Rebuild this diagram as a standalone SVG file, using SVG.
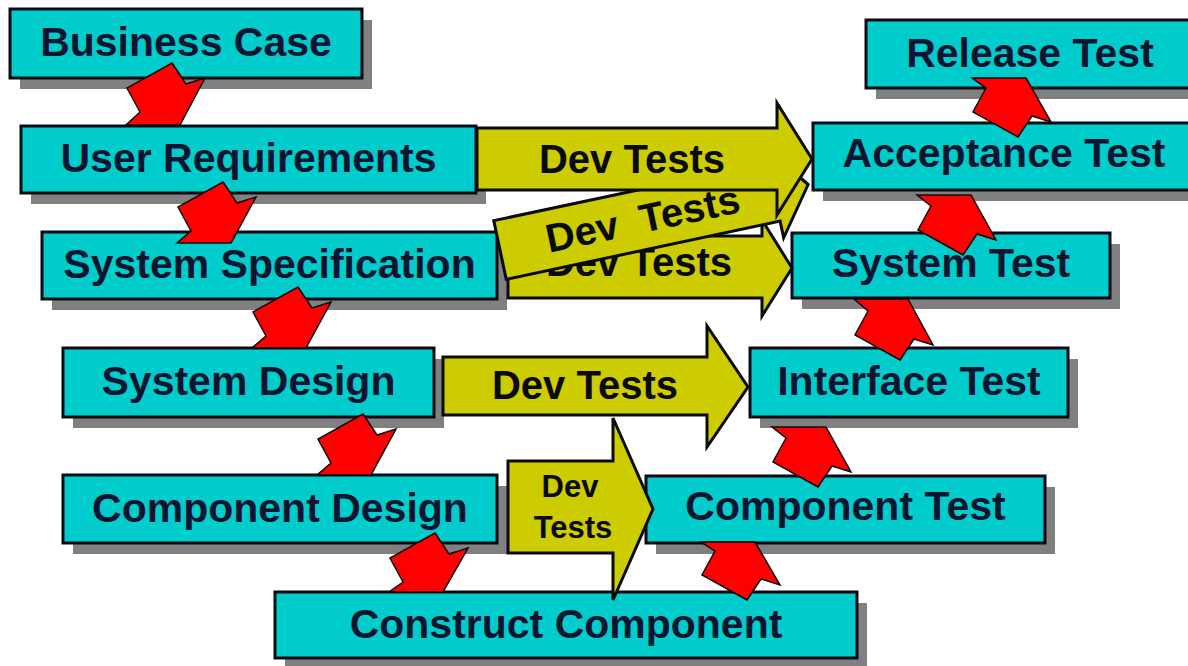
<svg xmlns="http://www.w3.org/2000/svg" width="1188" height="666" viewBox="0 0 1188 666">
<style>
.sh{fill:#808080}
.bx{fill:#00CCCC;stroke:#0a0a14;stroke-width:3}
.lb{font-family:"Liberation Sans",Arial,sans-serif;font-weight:bold;font-size:41px;fill:#0b1530;text-anchor:middle}
.ya{fill:#CCCC00;stroke:#0a0a0a;stroke-width:3;stroke-linejoin:miter}
.yt{font-family:"Liberation Sans",Arial,sans-serif;font-weight:bold;font-size:40px;fill:#0a0a0a;text-anchor:middle}
.ys{font-family:"Liberation Sans",Arial,sans-serif;font-weight:bold;font-size:31px;fill:#0a0a0a;text-anchor:middle}
.ra{fill:#FF0000;stroke:#0a0a0a;stroke-width:1.5;stroke-linejoin:miter}
</style>
<rect width="1188" height="666" fill="#ffffff"/>
<g id="business-case"><rect class="sh" x="20" y="20" width="352" height="69"/><rect class="bx" x="10" y="9" width="352" height="69"/><text class="lb" x="186" y="56">Business Case</text></g>
<g id="user-requirements"><rect class="sh" x="31" y="137" width="455" height="67"/><rect class="bx" x="21" y="126" width="455" height="67"/><text class="lb" x="248.5" y="172">User Requirements</text></g>
<g id="system-specification"><rect class="sh" x="52" y="243" width="455" height="67"/><rect class="bx" x="42" y="232" width="455" height="67"/><text class="lb" x="269.5" y="278">System Specification</text></g>
<g id="system-design"><rect class="sh" x="73" y="359" width="371" height="69"/><rect class="bx" x="63" y="348" width="371" height="69"/><text class="lb" x="248.5" y="395">System Design</text></g>
<g id="component-design"><rect class="sh" x="73" y="486" width="434" height="68"/><rect class="bx" x="63" y="475" width="434" height="68"/><text class="lb" x="280" y="522">Component Design</text></g>
<g id="construct-component"><rect class="sh" x="285" y="603" width="582" height="66"/><rect class="bx" x="275" y="592" width="582" height="66"/><text class="lb" x="566" y="638">Construct Component</text></g>
<g id="component-test"><rect class="sh" x="656" y="487" width="399" height="67"/><rect class="bx" x="646" y="476" width="399" height="67"/><text class="lb" x="845.5" y="520">Component Test</text></g>
<g id="interface-test"><rect class="sh" x="760" y="359" width="318" height="69"/><rect class="bx" x="750" y="348" width="318" height="69"/><text class="lb" x="909" y="395">Interface Test</text></g>
<g id="system-test"><rect class="sh" x="802" y="244" width="318" height="65"/><rect class="bx" x="792" y="233" width="318" height="65"/><text class="lb" x="951" y="277">System Test</text></g>
<g id="acceptance-test"><rect class="sh" x="823" y="134" width="383" height="67"/><rect class="bx" x="813" y="123" width="383" height="67"/><text class="lb" x="1004" y="167">Acceptance Test</text></g>
<g id="release-test"><rect class="sh" x="876" y="31" width="328" height="68"/><rect class="bx" x="866" y="20" width="328" height="68"/><text class="lb" x="1030" y="67">Release Test</text></g>
<g id="connectors">
<g id="dev-tests-spec"><polygon class="ya" points="508,236 762,236 762,220 792,268 762,316 762,298 508,298"/><text class="yt" x="639" y="276">Dev Tests</text></g>
<g id="dev-tests-diagonal" transform="translate(500,250) rotate(-12)"><polygon class="ya" points="0,-30 280,-30 280,-47 315,0 280,47 280,30 0,30"/><text class="yt" x="146" y="13" xml:space="preserve">Dev  Tests</text></g>
<g id="dev-tests-user"><polygon class="ya" points="477,128 777,128 777,103 812,159 777,215 777,190 477,190"/><text class="yt" x="632" y="173">Dev Tests</text></g>
<g id="dev-tests-design"><polygon class="ya" points="443,357 707,357 707,326 748,387 707,447 707,415 443,415"/><text class="yt" x="585" y="399">Dev Tests</text></g>
<g id="dev-tests-component"><polygon class="ya" points="508,461 613,461 613,418 653,509 613,600 613,553 508,553"/><text class="ys" x="570" y="497">Dev</text><text class="ys" x="573" y="538">Tests</text></g>
<polygon class="ra" points="172,63 186,84 205,78 180,125 126,125 140,112 127,88"/>
<polygon class="ra" points="223,182 237,203 256,197 231,243 177,243 191,231 178,207"/>
<polygon class="ra" points="298,287 312,308 331,302 306,348 252,348 266,336 253,312"/>
<polygon class="ra" points="363,414 377,435 396,429 371,475 317,475 331,463 318,439"/>
<polygon class="ra" points="435,533 449,554 468,548 443,592 389,592 403,582 390,558"/>
<polygon class="ra" points="747,600 761,579 780,585 755,542 701,542 715,551 702,575"/>
<polygon class="ra" points="818,487 832,466 851,472 826,427 772,427 786,438 773,462"/>
<polygon class="ra" points="900,360 914,339 933,345 908,299 854,299 868,311 855,335"/>
<polygon class="ra" points="963,255 977,234 996,240 971,195 917,195 931,206 918,230"/>
<polygon class="ra" points="1018,137 1032,116 1051,122 1026,78 972,78 986,88 973,112"/>
</g>
</svg>
